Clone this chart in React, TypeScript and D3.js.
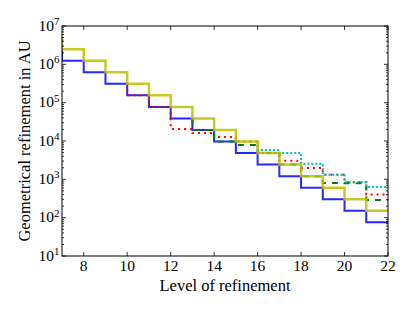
import React from 'react';
import * as d3 from 'd3';

// refinement level (x) and geometrical refinement per level (steps-pre)
const levels = [7, 8, 9, 10, 11, 12, 13, 14, 15, 16, 17, 18, 19, 20, 21, 22];
const blueValues = [2.48e6, 1.24e6, 6.2e5, 3.1e5, 1.55e5, 7.75e4, 3.87e4, 1.94e4, 9.69e3, 4.84e3, 2.42e3, 1.21e3, 605, 303, 151, 76];
const redValues = [null, null, null, 3.1e5, 1.55e5, 7.75e4, 2.06e4, 1.62e4, 1.27e4, 9.69e3, 4.84e3, 3.06e3, 1.97e3, 1320, 836, 402];
const greenValues = [null, null, null, null, null, null, 3.87e4, 1.94e4, 9.69e3, 7.86e3, 4.84e3, 2.42e3, 1.21e3, 800, 790, 290];
const cyanValues = [null, null, null, null, null, null, null, null, null, 9.69e3, 5.8e3, 4.9e3, 2.55e3, 1320, 840, 630];
const yellowValues = [4.96e6, 2.48e6, 1.24e6, 6.2e5, 3.1e5, 1.55e5, 7.75e4, 3.87e4, 1.94e4, 9.69e3, 4.84e3, 2.42e3, 1.21e3, 605, 303, 152];

const xTicks = [8, 10, 12, 14, 16, 18, 20, 22];
const yExponents = [1, 2, 3, 4, 5, 6, 7];

const W = 415;
const H = 312;
const left = 62;
const right = 388;
const top = 26;
const bottom = 256;

const App = () => {
  const x = d3.scaleLinear().domain([7, 22]).range([left, right]);
  const y = d3.scaleLog().domain([10, 1e7]).range([bottom, top]);

  const line = d3
    .line<[number, number | null]>()
    .defined((d) => d[1] != null)
    .x((d) => x(d[0]))
    .y((d) => y(d[1] as number))
    .curve(d3.curveStepBefore);

  const path = (vals: (number | null)[]) =>
    line(levels.map((l, i) => [l, vals[i]] as [number, number | null])) || '';

  const series = [
    { vals: blueValues, color: '#0000ff', width: 2, dash: '', opacity: 0.85 },
    { vals: redValues, color: '#ff0000', width: 2, dash: '2,4', opacity: 1 },
    { vals: greenValues, color: '#008000', width: 2, dash: '6,6', opacity: 1 },
    { vals: cyanValues, color: '#00bfbf', width: 2, dash: '2,2', opacity: 1 },
    { vals: yellowValues, color: '#bfbf00', width: 2.5, dash: '', opacity: 0.85 },
  ];

  // log minor ticks
  const minor: number[] = [];
  for (let e = 1; e < 7; e++) {
    for (let m = 2; m <= 9; m++) minor.push(m * Math.pow(10, e));
  }

  const font = '"Liberation Serif", serif';

  return (
    <svg width={W} height={H} style={{ position: 'absolute', left: 0, top: 0 }}>
      <rect width={W} height={H} fill="#fff" />
      <defs>
        <clipPath id="plot">
          <rect x={left} y={top} width={right - left} height={bottom - top} />
        </clipPath>
      </defs>
      <g clipPath="url(#plot)" fill="none">
        {series.map((s, i) => (
          <path
            key={i}
            d={path(s.vals)}
            stroke={s.color}
            strokeWidth={s.width}
            strokeDasharray={s.dash || undefined}
            strokeOpacity={s.opacity}
          />
        ))}
      </g>
      {/* ticks */}
      <g stroke="#000" strokeWidth={0.8}>
        {xTicks.map((t) => (
          <g key={t}>
            <line x1={x(t)} x2={x(t)} y1={bottom} y2={bottom - 4} />
            <line x1={x(t)} x2={x(t)} y1={top} y2={top + 4} />
          </g>
        ))}
        {yExponents.map((e) => (
          <g key={e}>
            <line x1={left} x2={left + 4} y1={y(Math.pow(10, e))} y2={y(Math.pow(10, e))} />
            <line x1={right} x2={right - 4} y1={y(Math.pow(10, e))} y2={y(Math.pow(10, e))} />
          </g>
        ))}
        {minor.map((m) => (
          <g key={m}>
            <line x1={left} x2={left + 2} y1={y(m)} y2={y(m)} />
            <line x1={right} x2={right - 2} y1={y(m)} y2={y(m)} />
          </g>
        ))}
      </g>
      <rect x={left} y={top} width={right - left} height={bottom - top} fill="none" stroke="#000" strokeWidth={1} />
      {/* tick labels */}
      <g fontFamily={font} fill="#000">
        {xTicks.map((t) => (
          <text key={t} x={x(t)} y={271} fontSize={15.5} textAnchor="middle">
            {t}
          </text>
        ))}
        {yExponents.map((e) => (
          <text key={e} x={59.5} y={y(Math.pow(10, e)) + 4.5} fontSize={15.5} textAnchor="end">
            10
            <tspan dy={-5.5} fontSize={11}>{e}</tspan>
          </text>
        ))}
        <text x={(left + right) / 2} y={291} fontSize={16.5} textAnchor="middle">
          Level of refinement
        </text>
        <text
          transform={`translate(30, ${(top + bottom) / 2}) rotate(-90)`}
          fontSize={16.5}
          textAnchor="middle"
        >
          Geometrical refinement in AU
        </text>
      </g>
    </svg>
  );
};

export default App;
